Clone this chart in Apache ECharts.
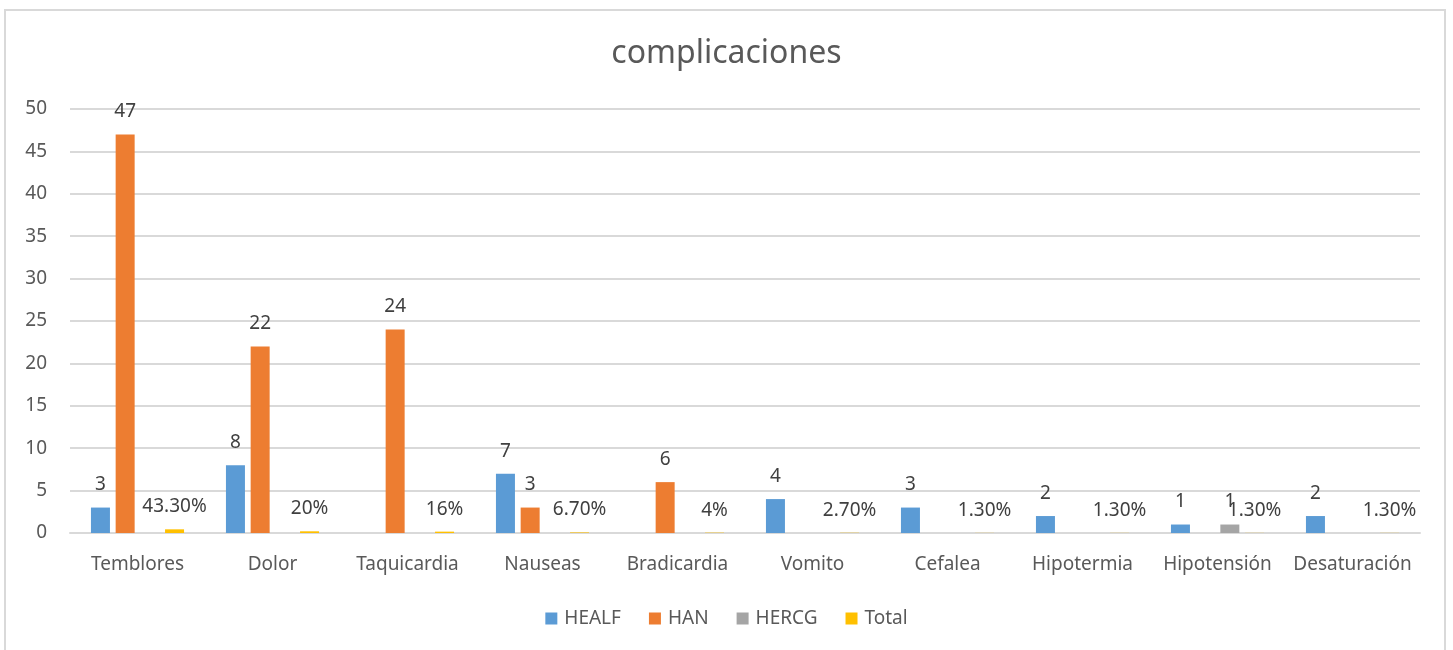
<!DOCTYPE html>
<html>
<head>
<meta charset="utf-8">
<script src="https://cdn.jsdelivr.net/npm/echarts@6/dist/echarts.min.js"></script>
<style>
  html, body { margin: 0; padding: 0; background: #fff; overflow: hidden; }
  #frame { position: absolute; left: 4px; top: 9px; width: 1442px; height: 660px; border: 2px solid #d9d9d9; box-sizing: border-box; }
  #main { position: absolute; left: 0; top: 0; width: 1453px; height: 650px; }
</style>
</head>
<body>
<div id="frame"></div>
<div id="main"></div>
<script>
// datos de la grafica
var categorias = ['Temblores', 'Dolor', 'Taquicardia', 'Nauseas', 'Bradicardia', 'Vomito', 'Cefalea', 'Hipotermia', 'Hipotensión', 'Desaturación'];
var healf = [3, 8, null, 7, null, 4, 3, 2, 1, 2];
var han = [47, 22, 24, 3, 6, null, null, null, null, null];
var hercg = [null, null, null, null, null, null, null, null, 1, null];
var total = [0.433, 0.2, 0.16, 0.067, 0.04, 0.027, 0.013, 0.013, 0.013, 0.013];
var yTicks = { min: 0, max: 50, interval: 5 };

var fuente = 'Noto Sans';
var gris = '#595959';

function pct(v) {
  var p = Math.round(v * 10000) / 100;
  return Number.isInteger(p) ? p + '%' : p.toFixed(2) + '%';
}

var etiqueta = {
  show: true,
  position: 'top',
  distance: 13,
  color: '#404040',
  fontFamily: fuente,
  fontSize: 19
};

function serie(nombre, datos, color, fmt) {
  return {
    name: nombre,
    type: 'bar',
    data: datos,
    barWidth: 19,
    barGap: '30%',
    itemStyle: { color: color },
    label: Object.assign({}, etiqueta, { formatter: fmt || '{c}' })
  };
}

var chartDom = document.getElementById('main');
var myChart = echarts.init(chartDom);
var option;

option = {
  animation: false,
  title: {
    text: 'complicaciones',
    left: 'center',
    top: 33,
    textStyle: { color: gris, fontFamily: fuente, fontSize: 32, fontWeight: 'normal' }
  },
  legend: {
    data: ['HEALF', 'HAN', 'HERCG', 'Total'],
    bottom: 17,
    left: 'center',
    itemWidth: 12,
    itemHeight: 12,
    itemGap: 28,
    icon: 'rect',
    textStyle: { color: gris, fontFamily: fuente, fontSize: 19, padding: [0, 0, 0, 2] }
  },
  grid: {
    left: 70,
    right: 33,
    top: 109,
    bottom: 117
  },
  xAxis: {
    type: 'category',
    data: categorias,
    axisLine: { lineStyle: { color: '#d9d9d9', width: 2 } },
    axisTick: { show: false },
    axisLabel: { color: gris, fontFamily: fuente, fontSize: 19, margin: 22, interval: 0 }
  },
  yAxis: {
    type: 'value',
    min: yTicks.min,
    max: yTicks.max,
    interval: yTicks.interval,
    axisLine: { show: false },
    axisTick: { show: false },
    axisLabel: { color: gris, fontFamily: fuente, fontSize: 19, margin: 23 },
    splitLine: { lineStyle: { color: '#d9d9d9', width: 2 } }
  },
  series: [
    serie('HEALF', healf, '#5b9bd5'),
    serie('HAN', han, '#ed7d31'),
    serie('HERCG', hercg, '#a5a5a5'),
    serie('Total', total, '#ffc000', function (p) { return pct(p.value); })
  ]
};

option && myChart.setOption(option);
</script>
</body>
</html>
